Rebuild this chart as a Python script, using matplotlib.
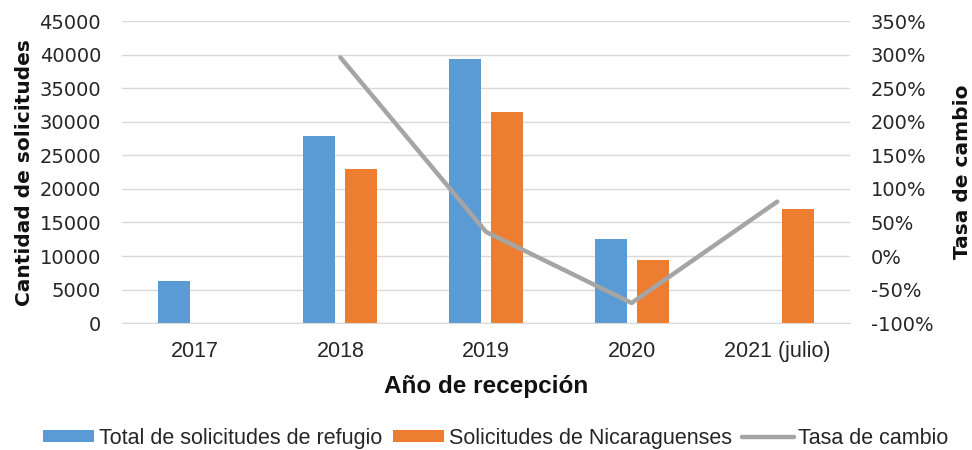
import matplotlib
matplotlib.use("Agg")
import matplotlib.pyplot as plt
import matplotlib.ticker as mticker
import numpy as np

anios = ["2017", "2018", "2019", "2020", "2021 (julio)"]
total_refugio = [6250, 27900, 39400, 12600, np.nan]
nicaraguenses = [np.nan, 23000, 31500, 9400, 17000]
tasa_cambio = [np.nan, 296, 36, -70, 81]

azul = "#5B9BD5"
naranja = "#ED7D31"
gris = "#A5A5A5"
narrow = ["Liberation Sans", "DejaVu Sans"]
texto = "#262626"

fig = plt.figure(figsize=(9.72, 4.5), dpi=100)
ax = fig.add_axes([0.1255, 0.282, 0.749, 0.671])
ax2 = ax.twinx()

x = np.arange(len(anios))
ancho = 0.22
b1 = ax.bar(x - 0.144, total_refugio, ancho, color=azul, label="Total de solicitudes de refugio", zorder=2)
b2 = ax.bar(x + 0.144, nicaraguenses, ancho, color=naranja, label="Solicitudes de Nicaraguenses", zorder=2)
l1, = ax2.plot(x, tasa_cambio, color=gris, linewidth=3.2, label="Tasa de cambio", solid_capstyle="round")

ax.set_xlim(-0.5, len(anios) - 0.5)
ax.set_ylim(0, 45000)
ax.set_yticks(np.arange(0, 45001, 5000))
ax2.set_ylim(-100, 350)
ax2.set_yticks(np.arange(-100, 351, 50))
ax2.yaxis.set_major_formatter(mticker.FuncFormatter(lambda v, p: f"{v:.0f}%"))

ax.grid(axis="y", color="#D9D9D9", linewidth=1, zorder=0)
ax.set_axisbelow(True)
for a in (ax, ax2):
    for s in a.spines.values():
        s.set_visible(False)
ax.spines["bottom"].set_visible(True)
ax.spines["bottom"].set_color("#D9D9D9")

ax.tick_params(axis="y", length=0, labelsize=14, labelcolor=texto, pad=15)
ax2.tick_params(axis="y", length=0, labelsize=14, labelcolor=texto, pad=15)
ax.tick_params(axis="x", length=0, pad=13)
ax.set_xticks(x)
ax.set_xticklabels(anios, family=narrow, fontsize=15.5, color=texto)

ax.set_ylabel("Cantidad de solicitudes", fontsize=14.5, fontweight="bold", labelpad=4, color="#111111")
ax2.set_ylabel("Tasa de cambio", fontsize=14.5, fontweight="bold", labelpad=14, color="#111111")
ax.set_xlabel("Año de recepción", family=narrow, fontsize=17.5, fontweight="bold", labelpad=9, color="#111111")

fig.legend(handles=[b1, b2, l1], loc="lower center", bbox_to_anchor=(0.51, -0.04), ncol=3,
           frameon=False, prop={"family": narrow, "size": 15.5}, handlelength=2.4,
           handleheight=0.5, handletextpad=0.2, columnspacing=0.5,
           labelcolor=texto)

fig.savefig("out.png", dpi=100)
